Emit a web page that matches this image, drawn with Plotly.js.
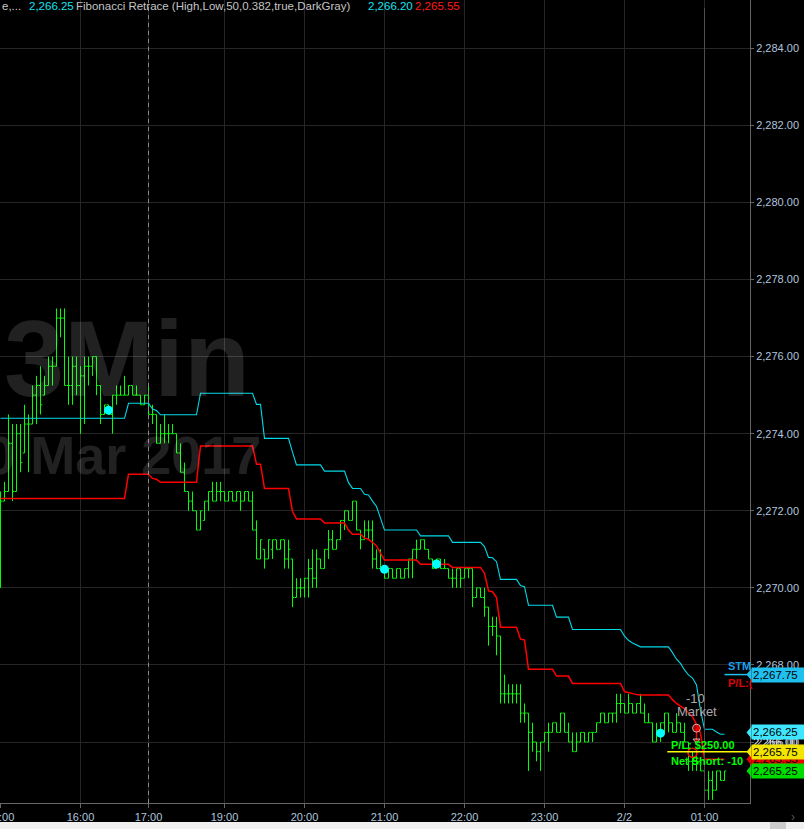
<!DOCTYPE html>
<html><head><meta charset="utf-8">
<script src="https://cdn.plot.ly/plotly-3.0.1.min.js"></script>
<style>html,body{margin:0;padding:0;background:#000;overflow:hidden}#chart{width:804px;height:829px}</style>
</head><body><div id="chart"></div>
<script>
// ---- 3-minute OHLC bars (bar index 0 = 15:00) ----
const barOpen = [
2270.25,2272.25,2272.5,2273.75,2272.5,2274,2273.5,2274.25,2274.25,2275,
2275.25,2275,2275.25,2275.75,2275.75,2277,2277,2275.25,2275.25,2275.75,
2275.25,2275.5,2275.75,2275.75,2276,2275.25,2274.5,2274.75,2274.5,2275,
2275,2275,2275,2275.25,2275,2275,2274.75,2275,2274.5,2274.5,
2273.75,2274,2274,2274,2274,2273.5,2273,2272.5,2272.25,2272,
2271.5,2271.75,2272.25,2272.5,2272.25,2272.5,2272.5,2272.25,2272.5,2272.25,
2272.5,2272.25,2272.5,2272.25,2271.5,2270.75,2271,2270.75,2271,2271.25,
2271,2271.25,2270.75,2270.75,2269.75,2270,2270,2270.25,2270.5,2270.25,
2270.75,2270.5,2271,2271.25,2271,2271.25,2271.75,2272,2271.75,2272.25,
2271.5,2271.25,2271.5,2271.5,2270.75,2270.5,2270.5,2270.25,2270.5,2270.25,
2270.5,2270.25,2270.5,2270.75,2271,2271,2271.25,2271,2270.75,2270.5,
2270.75,2270.5,2270.5,2270.25,2270.25,2270.5,2270.25,2270.5,2270.5,2269.75,
2270,2269.75,2269.5,2269,2269,2268.75,2267.25,2267.25,2267.25,2267.25,
2267.25,2266.75,2266.75,2266.25,2266,2265.75,2266,2266.25,2266.25,2266.5,
2266.25,2266.75,2266.25,2266,2265.75,2266,2266.25,2266,2266.25,2266.25,
2266.5,2266.75,2266.5,2266.75,2266.75,2267,2267,2266.75,2267,2266.75,
2267,2266.75,2266.5,2266.5,2266,2266.25,2266.5,2266.75,2266.5,2266.25,
2266.5,2266.25,2266,2265.5,2265.5,2265.5,2265.25,2264.75,2265,2264.75,
2265.25,2265];
const barHigh = [
2272.5,2272.75,2274.5,2274.25,2274.25,2274.25,2274.75,2274.5,2275.25,2275.5,
2275.75,2275.5,2276,2276,2277.25,2277.25,2277.25,2276,2276,2276,
2275.75,2276,2276,2276,2276,2275.25,2274.75,2274.75,2275,2275.25,
2275.25,2275.5,2275.25,2275.25,2275.25,2275,2275,2275.25,2274.75,2274.5,
2274.25,2274.5,2274.25,2274.25,2274,2273.75,2273.25,2272.5,2272.5,2272,
2272,2272.25,2272.5,2272.75,2272.75,2272.75,2272.5,2272.5,2272.5,2272.5,
2272.5,2272.5,2272.5,2272.5,2271.75,2271.25,2271,2271.25,2271.25,2271.25,
2271.25,2271.25,2271.25,2270.75,2270.25,2270.25,2270.25,2270.75,2271,2271,
2270.75,2271,2271.5,2271.5,2271.25,2271.75,2272,2272,2272.25,2272.25,
2271.5,2271.75,2271.75,2271.75,2271,2271,2270.5,2270.5,2270.5,2270.5,
2270.5,2270.5,2270.75,2271,2271.25,2271.25,2271.25,2271,2270.75,2270.75,
2270.75,2270.75,2270.5,2270.5,2270.5,2270.5,2270.5,2270.5,2270.5,2270,
2270,2270,2269.5,2269.25,2269.25,2268.75,2267.75,2267.5,2267.5,2267.5,
2267.5,2267,2266.75,2266.5,2266,2266,2266.25,2266.5,2266.5,2266.5,
2266.75,2266.75,2266.5,2266.25,2266.25,2266.25,2266.25,2266.25,2266.25,2266.5,
2266.75,2266.75,2266.75,2266.75,2267.25,2267.25,2267,2267.25,2267,2267,
2267.25,2267,2266.75,2266.5,2266.5,2266.5,2266.75,2266.75,2266.5,2266.75,
2266.5,2266.5,2266,2265.75,2265.75,2265.5,2265.25,2265.25,2265.25,2265.25,
2265.25,2265.25];
const barLow = [
2270,2272.25,2272.5,2272.25,2272.5,2273,2273.5,2273,2274.25,2274.25,
2274.5,2275,2275.25,2275.25,2275.75,2276.5,2275.25,2274.75,2274.75,2275,
2274,2274.25,2275.25,2275.5,2275,2274.25,2274.5,2274.5,2274,2274.75,
2275,2275,2275,2275,2275,2274.75,2274.75,2274.5,2274.25,2273.75,
2273.75,2273.75,2273.75,2274,2273.5,2273,2272.5,2272,2272,2271.5,
2271.5,2271.75,2272,2272.25,2272.25,2272.25,2272.25,2272.25,2272.25,2272.25,
2272,2272.25,2272.25,2271.5,2270.75,2270.75,2270.5,2270.75,2270.75,2271,
2271,2270.5,2270.5,2269.5,2269.75,2269.75,2269.75,2269.75,2270,2270,
2270.5,2270.5,2270.75,2271,2271,2271.25,2271.5,2271.75,2271.75,2271.5,
2271,2271.25,2271.25,2270.5,2270.5,2270.5,2270.25,2270.25,2270.25,2270.25,
2270.25,2270.25,2270.25,2270.25,2270.75,2271,2271,2270.75,2270.5,2270.5,
2270.5,2270.5,2270.25,2270,2270,2270,2270.25,2270.25,2269.5,2269.75,
2269.75,2269.25,2268.5,2268.75,2268.25,2267,2267,2267,2267,2267,
2266.5,2266.5,2265.25,2265.75,2265.5,2265.25,2266,2265.75,2266.25,2266.25,
2266.25,2266.25,2266,2265.75,2265.75,2266,2266,2266,2266,2266.25,
2266.5,2266.5,2266.5,2266.5,2266.5,2266.75,2266.75,2266.75,2266.75,2266.75,
2266.75,2266.5,2266.5,2266,2266,2266,2266.25,2266.25,2266.25,2266.25,
2266.25,2266,2265.25,2265.25,2265.25,2265.25,2264.5,2264.5,2264.5,2264.75,
2265,2265];
const barClose = [
2272.25,2272.5,2273.75,2272.5,2274,2273.25,2274.25,2274.25,2275,2275.25,
2274.75,2275.25,2275.75,2275.75,2277,2277,2275.25,2275.25,2275.75,2275.25,
2275.5,2275.75,2275.75,2276,2275.25,2274.5,2274.75,2274.5,2275,2275,
2275,2275,2275.25,2275,2275,2274.75,2275,2274.5,2274.5,2273.75,
2274,2274,2274,2274,2273.5,2273,2272.5,2272.25,2272,2271.5,
2272,2272.25,2272.5,2272.25,2272.5,2272.5,2272.25,2272.5,2272.25,2272.5,
2272.25,2272.5,2272.25,2271.5,2270.75,2271.25,2270.75,2271.25,2271.25,2271,
2271.25,2270.75,2271,2269.75,2270,2270,2270.25,2270.5,2270.25,2270.75,
2270.5,2271,2271.25,2271,2271.25,2271.75,2272,2271.75,2272.25,2271.5,
2271.25,2271.5,2271.5,2270.75,2270.5,2270.5,2270.25,2270.5,2270.25,2270.5,
2270.25,2270.5,2270.75,2271,2271,2271.25,2271,2270.75,2270.5,2270.75,
2270.5,2270.5,2270.25,2270.25,2270.5,2270.25,2270.5,2270.5,2269.75,2270,
2269.75,2269.5,2269,2269,2268.75,2267.25,2267.25,2267.25,2267.25,2267.25,
2266.75,2266.75,2266.25,2266,2265.75,2266,2266.25,2266.25,2266.5,2266.25,
2266.75,2266.25,2266,2265.75,2266,2266.25,2266,2266.25,2266.25,2266.5,
2266.75,2266.5,2266.75,2266.75,2267,2267,2266.75,2267,2266.75,2267,
2266.75,2266.5,2266.5,2266,2266.25,2266.5,2266.75,2266.5,2266.25,2266.5,
2266.25,2266,2265.5,2265.5,2265.5,2265.25,2264.75,2265,2264.75,2265.25,
2265,2265.25];

// ---- indicator lines (cyan upper, red lower) ----
const upperLine = [
2274.40,2274.40,2274.40,2274.40,2274.40,2274.40,2274.40,2274.40,2274.40,2274.40,
2274.40,2274.40,2274.40,2274.40,2274.40,2274.40,2274.40,2274.40,2274.40,2274.40,
2274.40,2274.40,2274.40,2274.40,2274.40,2274.40,2274.40,2274.40,2274.40,2274.40,
2274.40,2274.40,2274.79,2274.79,2274.79,2274.79,2274.79,2274.79,2274.64,2274.60,
2274.49,2274.49,2274.49,2274.49,2274.49,2274.49,2274.49,2274.49,2274.49,2274.49,
2275.05,2275.05,2275.05,2275.05,2275.05,2275.05,2275.05,2275.05,2275.05,2275.05,
2275.05,2275.05,2275.05,2275.05,2274.76,2274.76,2273.88,2273.88,2273.88,2273.88,
2273.88,2273.88,2273.88,2273.52,2273.19,2273.19,2273.19,2273.19,2273.19,2273.19,
2273.19,2273.03,2273.03,2273.03,2273.03,2273.03,2273.03,2272.73,2272.58,2272.58,
2272.58,2272.43,2272.41,2272.25,2272.11,2271.81,2271.50,2271.50,2271.50,2271.50,
2271.50,2271.50,2271.50,2271.50,2271.50,2271.35,2271.35,2271.35,2271.35,2271.35,
2271.35,2271.35,2271.35,2271.18,2271.18,2271.18,2271.18,2271.18,2271.18,2271.18,
2271.18,2271.07,2270.79,2270.78,2270.68,2270.22,2270.22,2270.22,2270.22,2270.22,
2270.06,2270.03,2269.55,2269.55,2269.55,2269.55,2269.55,2269.55,2269.55,2269.24,
2269.24,2269.24,2269.24,2268.92,2268.92,2268.92,2268.92,2268.92,2268.92,2268.92,
2268.92,2268.92,2268.92,2268.92,2268.92,2268.92,2268.75,2268.64,2268.57,2268.52,
2268.47,2268.47,2268.47,2268.47,2268.47,2268.47,2268.47,2268.47,2268.32,2268.15,
2268.04,2267.87,2267.74,2267.66,2267.48,2266.83,2266.33,2266.33,2266.33,2266.26,
2266.20,2266.20];
const lowerLine = [
2272.32,2272.32,2272.32,2272.32,2272.32,2272.32,2272.32,2272.32,2272.32,2272.32,
2272.32,2272.32,2272.32,2272.32,2272.32,2272.32,2272.32,2272.32,2272.32,2272.32,
2272.32,2272.32,2272.32,2272.32,2272.32,2272.32,2272.32,2272.32,2272.32,2272.32,
2272.32,2272.32,2272.95,2272.95,2272.95,2272.95,2272.95,2272.95,2272.84,2272.82,
2272.74,2272.74,2272.74,2272.74,2272.74,2272.74,2272.74,2272.74,2272.74,2272.74,
2273.68,2273.68,2273.68,2273.68,2273.68,2273.68,2273.68,2273.68,2273.68,2273.68,
2273.68,2273.68,2273.68,2273.68,2273.21,2273.21,2272.58,2272.58,2272.58,2272.58,
2272.58,2272.58,2272.58,2271.98,2271.79,2271.79,2271.79,2271.79,2271.79,2271.79,
2271.79,2271.68,2271.68,2271.68,2271.68,2271.68,2271.68,2271.50,2271.39,2271.39,
2271.39,2271.29,2271.26,2271.18,2271.09,2270.90,2270.72,2270.72,2270.72,2270.72,
2270.72,2270.72,2270.72,2270.72,2270.72,2270.61,2270.61,2270.61,2270.61,2270.61,
2270.61,2270.61,2270.61,2270.53,2270.53,2270.53,2270.53,2270.53,2270.53,2270.53,
2270.53,2270.38,2269.92,2269.90,2269.75,2268.98,2268.98,2268.98,2268.98,2268.98,
2268.67,2268.65,2267.89,2267.89,2267.89,2267.89,2267.89,2267.89,2267.89,2267.71,
2267.71,2267.71,2267.71,2267.52,2267.52,2267.52,2267.52,2267.52,2267.52,2267.52,
2267.52,2267.52,2267.52,2267.52,2267.52,2267.52,2267.31,2267.28,2267.25,2267.23,
2267.22,2267.22,2267.22,2267.22,2267.22,2267.22,2267.22,2267.22,2267.10,2267.00,
2266.93,2266.87,2266.76,2266.66,2266.45,2266.23,2265.55,2265.55,2265.55,2265.55,
2265.55,2265.55];

// ---- signal dots ----
const signalIdx = [27, 96, 109, 165];
const signalPrice = [2274.61, 2270.48, 2270.62, 2266.23];

// ---- market order markers ----
const orderIdx = [174, 174];
const orderPrice = [2266.36, 2266.04];
const fillIdx = [173];
const fillPrice = [2265.72];

// ---- axis ticks ----
const hourTickIdx = [0, 20, 37, 56, 76, 96, 116, 136, 156, 176];
const hourTickText = ["15:00","16:00","17:00","19:00","20:00","21:00","22:00","23:00","2/2","01:00"];
const sessionBreakIdx = 37;
const cursorIdx = 176;

// ---- price levels ----
const positionPrice = 2265.75;
const positionStartIdx = 166.7;
const stmPrice = 2267.75;
const stmStartIdx = 181;
const labelPrice = [2266.00, 2267.75, 2265.55, 2266.25, 2265.75, 2265.25];
const labelBg = [null, "#1fbfee", "#ee0000", "#3fe6ff", "#f2e600", "#00dc00"];

const FONT = "Liberation Sans, Arial, sans-serif";
const idx = barHigh.map((_, i) => i);
const X0 = -0.125, X1 = 187.375;
const Y0 = 2264.418, Y1 = 2285.253;
const PW = 750, PH = 803;
const px = v => v / PW;
const py = v => 1 - v / PH;
const fmt = p => p.toLocaleString("en-US", {minimumFractionDigits: 2, maximumFractionDigits: 2});

const traces = [
  {type: "ohlc", x: idx, open: barOpen, high: barHigh, low: barLow, close: barClose,
   increasing: {line: {color: "#00ff00", width: 1}}, decreasing: {line: {color: "#00ff00", width: 1}},
   tickwidth: 0.45, hoverinfo: "skip"},
  {type: "scatter", mode: "lines", x: idx, y: lowerLine, line: {color: "#ff0000", width: 1.5}, hoverinfo: "skip"},
  {type: "scatter", mode: "lines", x: idx, y: upperLine, line: {color: "#00d8e8", width: 1.1}, hoverinfo: "skip"},
  {type: "scatter", mode: "markers", x: signalIdx, y: signalPrice, marker: {color: "#00ffff", size: 9}, hoverinfo: "skip"},
  {type: "scatter", mode: "lines+markers", x: orderIdx, y: orderPrice, line: {color: "#ff0000", width: 1.5},
   marker: {color: "#ff0000", symbol: ["circle", "triangle-down"], size: [8, 6]}, hoverinfo: "skip"},
  {type: "scatter", mode: "markers", x: fillIdx, y: fillPrice,
   marker: {symbol: "circle-open", size: 9, color: "#ff0000", line: {width: 1.6, color: "#ff0000"}}, hoverinfo: "skip"}
];

const shapes = [
  {type: "line", xref: "x", yref: "paper", x0: sessionBreakIdx, x1: sessionBreakIdx, y0: 0, y1: 1,
   line: {color: "#8a8a8a", width: 1, dash: "4px,4px"}},
  {type: "line", xref: "x", yref: "paper", x0: cursorIdx, x1: cursorIdx, y0: 0, y1: 0.99,
   line: {color: "#4e4e4e", width: 1}},
  {type: "line", xref: "x", yref: "y", x0: positionStartIdx, x1: X1, y0: positionPrice, y1: positionPrice,
   line: {color: "#ffff00", width: 1.5}},
  {type: "line", xref: "x", yref: "y", x0: stmStartIdx, x1: X1, y0: stmPrice, y1: stmPrice,
   line: {color: "#1fbfee", width: 1.5}},
  // scrollbar strip
  {type: "rect", xref: "paper", yref: "paper", x0: 0, x1: px(804), y0: py(822), y1: py(830),
   fillcolor: "#f0f0f0", line: {width: 0}},
  {type: "rect", xref: "paper", yref: "paper", x0: px(770), x1: px(786), y0: py(822), y1: py(830),
   fillcolor: "#cdcdcd", line: {width: 0}}
];

const h = 0.156;
labelPrice.forEach((p, i) => {
  if (!labelBg[i]) return;
  shapes.push({type: "path", xref: "paper", yref: "y", fillcolor: labelBg[i], line: {width: 0},
    path: `M${px(746.5)},${p} L${px(751.5)},${p + h} L${px(751.5)},${p - h} Z`});
});

const ann = [];
// watermark
ann.push({xref: "paper", yref: "paper", x: px(2), y: py(358), xanchor: "left", yanchor: "middle", showarrow: false,
  text: "<b>3Min</b>", font: {family: FONT, size: 108, color: "rgba(255,255,255,0.13)"}});
ann.push({xref: "paper", yref: "paper", x: px(263), y: py(455), xanchor: "right", yanchor: "middle", showarrow: false,
  text: "<b>S&amp;P 500 Mar 2017</b>", font: {family: FONT, size: 54, color: "rgba(255,255,255,0.13)"}});
// header
const header = [
  ["e,...", 0, "#c8c8c8"],
  ["2,266.25", 27, "#19e0f0"],
  ["Fibonacci Retrace (High,Low,50,0.382,true,DarkGray)", 74, "#c4c4c4"],
  ["2,266.20", 366, "#19e0f0"],
  ["2,265.55", 413, "#ff1a1a"]
];
header.forEach(([t, x, c]) => ann.push({xref: "paper", yref: "paper", x: px(x), y: py(5.5), xanchor: "left", yanchor: "middle",
  showarrow: false, text: t, font: {family: FONT, size: 11.5, color: c}}));
// order texts
ann.push({xref: "x", yref: "y", x: 173.7, y: 2267.14, showarrow: false, text: "-10", font: {family: FONT, size: 13, color: "#a8a8a8"}});
ann.push({xref: "x", yref: "y", x: 174.2, y: 2266.78, showarrow: false, text: "Market", font: {family: FONT, size: 13, color: "#a8a8a8"}});
ann.push({xref: "x", yref: "y", x: 167.2, y: 2265.92, xanchor: "left", showarrow: false, text: "<b>P/L: $250.00</b>", font: {family: FONT, size: 11, color: "#00ff00"}});
ann.push({xref: "x", yref: "y", x: 167.2, y: 2265.52, xanchor: "left", showarrow: false, text: "<b>Net Short: -10</b>", font: {family: FONT, size: 11, color: "#00ff00"}});
ann.push({xref: "paper", yref: "y", x: px(726), y: 2267.97, xanchor: "left", showarrow: false, text: "<b>STM</b>", font: {family: FONT, size: 11, color: "#1e9fe6"}});
ann.push({xref: "paper", yref: "y", x: px(726), y: 2267.53, xanchor: "left", showarrow: false, text: "<b>P/L:(</b>", font: {family: FONT, size: 11, color: "#e00000"}});
// right price labels
labelPrice.forEach((p, i) => {
  const a = {xref: "paper", yref: "y", x: px(751), y: p, xanchor: "left", yanchor: "middle", showarrow: false,
    text: fmt(p), font: {family: FONT, size: 11.5, color: labelBg[i] ? "#000" : "#e8e8e8"}};
  if (labelBg[i]) { a.bgcolor = labelBg[i]; a.width = 52; a.height = 12; a.align = "left"; a.borderpad = 1; }
  ann.push(a);
});
ann.push({xref: "paper", yref: "paper", x: px(797), y: py(826), showarrow: false, text: "›", font: {family: FONT, size: 12, color: "#555"}});

const layout = {
  width: 804, height: 829, margin: {l: 0, r: 54, t: 0, b: 26, pad: 0},
  paper_bgcolor: "#000", plot_bgcolor: "#000", showlegend: false,
  font: {family: FONT},
  xaxis: {range: [X0, X1], tickmode: "array", tickvals: hourTickIdx, ticktext: hourTickText,
    showgrid: true, gridcolor: "#262626", gridwidth: 1, zeroline: false, ticklabeloverflow: "allow",
    ticks: "outside", ticklen: 4, tickcolor: "#666", showline: true, linecolor: "#666", linewidth: 1,
    tickfont: {family: FONT, size: 11, color: "#b0c4de"}, rangeslider: {visible: false}, fixedrange: true},
  yaxis: {range: [Y0, Y1], side: "right", tick0: 2264, dtick: 2, tickformat: ",.2f",
    showgrid: true, gridcolor: "#262626", gridwidth: 1, zeroline: false,
    ticks: "outside", ticklen: 3, tickcolor: "#666", showline: true, linecolor: "#666", linewidth: 1,
    tickfont: {family: FONT, size: 11, color: "#b0c4de"}, fixedrange: true},
  shapes: shapes, annotations: ann
};

Plotly.newPlot("chart", traces, layout, {staticPlot: true, displayModeBar: false});
</script></body></html>
